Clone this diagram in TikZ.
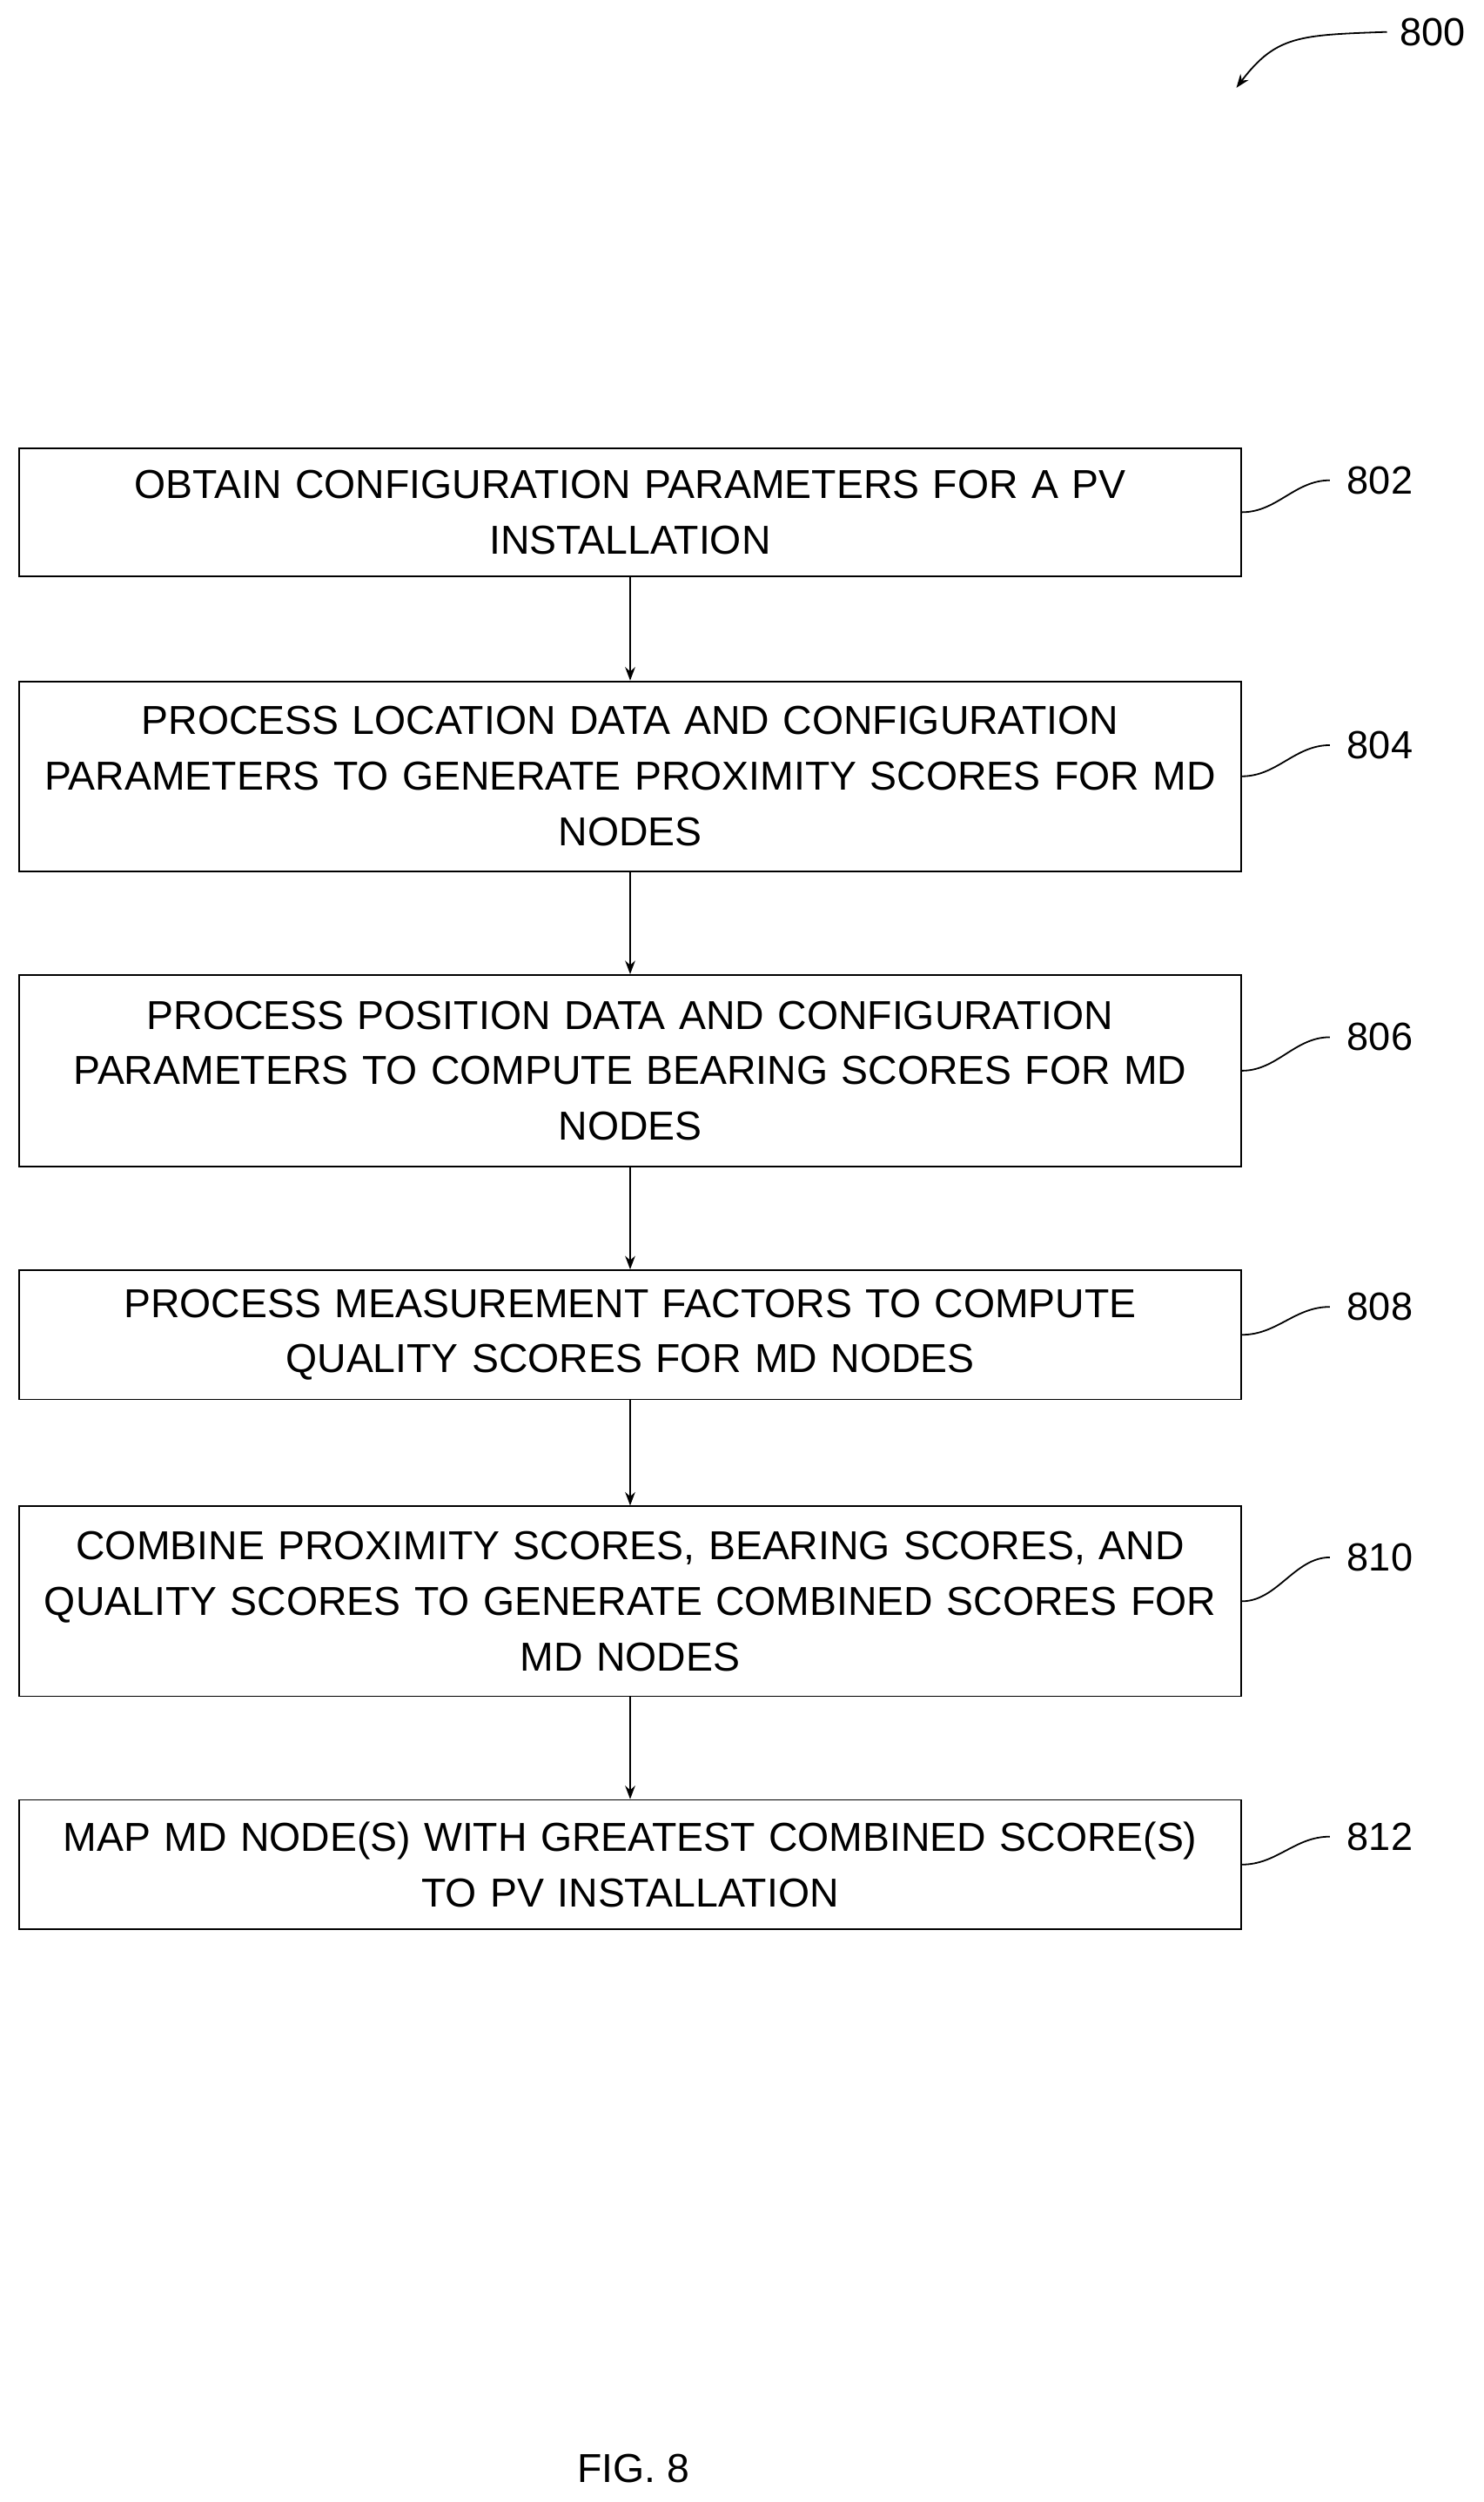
\documentclass[tikz,border=0pt]{standalone}
\usepackage{fontspec}
\setmainfont{Liberation Sans}
\usetikzlibrary{arrows.meta}
\begin{document}
\begin{tikzpicture}[x=0.05cm,y=-0.05cm,
  box/.style={draw,line width=1.4pt,minimum width=766*0.05cm,text width=756*0.05cm,align=center,inner sep=0pt,font=\fontsize{36}{49.5}\selectfont},
  lab/.style={font=\fontsize{35}{40}\selectfont},
  arr/.style={-{Stealth[length=12pt,width=9pt]},line width=1.4pt},
  sq/.style={line width=1.4pt}]
\useasboundingbox (0,0) rectangle (930,1568);
\node[box,minimum height=80*0.05cm] (b1) at (395,321) {OBTAIN CONFIGURATION PARAMETERS FOR A PV\\INSTALLATION};
\node[box,minimum height=119*0.05cm] (b2) at (395,486.5) {PROCESS LOCATION DATA AND CONFIGURATION\\PARAMETERS TO GENERATE PROXIMITY SCORES FOR MD\\NODES};
\node[box,minimum height=120*0.05cm] (b3) at (395,671) {PROCESS POSITION DATA AND CONFIGURATION\\PARAMETERS TO COMPUTE BEARING SCORES FOR MD\\NODES};
\node[box,minimum height=81*0.05cm] (b4) at (395,836.5) {PROCESS MEASUREMENT FACTORS TO COMPUTE\\QUALITY SCORES FOR MD NODES};
\node[box,minimum height=119*0.05cm] (b5) at (395,1003.5) {COMBINE PROXIMITY SCORES, BEARING SCORES, AND\\QUALITY SCORES TO GENERATE COMBINED SCORES FOR\\MD NODES};
\node[box,minimum height=81*0.05cm] (b6) at (395,1168.5) {MAP MD NODE(S) WITH GREATEST COMBINED SCORE(S)\\TO PV INSTALLATION};
\foreach \a/\b in {b1/b2,b2/b3,b3/b4,b4/b5,b5/b6} \draw[arr] (\a) -- (\b);
\foreach \n/\l/\y in {b1/802/301,b2/804/467,b3/806/650,b4/808/819,b5/810/976,b6/812/1151}{
  \node[lab] (l\l) at (865,\y) {\l};
  \coordinate (e\l) at (\n.east);
  \draw[sq] (e\l) .. controls ++(22,0) and ++(-22,0) .. ([xshift=-12pt]l\l.west);
}
\node[lab] (l800) at (898,20) {800};
\coordinate (t800) at (775,55);
\draw[arr] ([xshift=-8pt]l800.west) .. controls (815,22) and (800,22) .. (t800);
\node[font=\fontsize{36}{40}\selectfont] (fig) at (397,1547) {FIG. 8};
\end{tikzpicture}
\end{document}
